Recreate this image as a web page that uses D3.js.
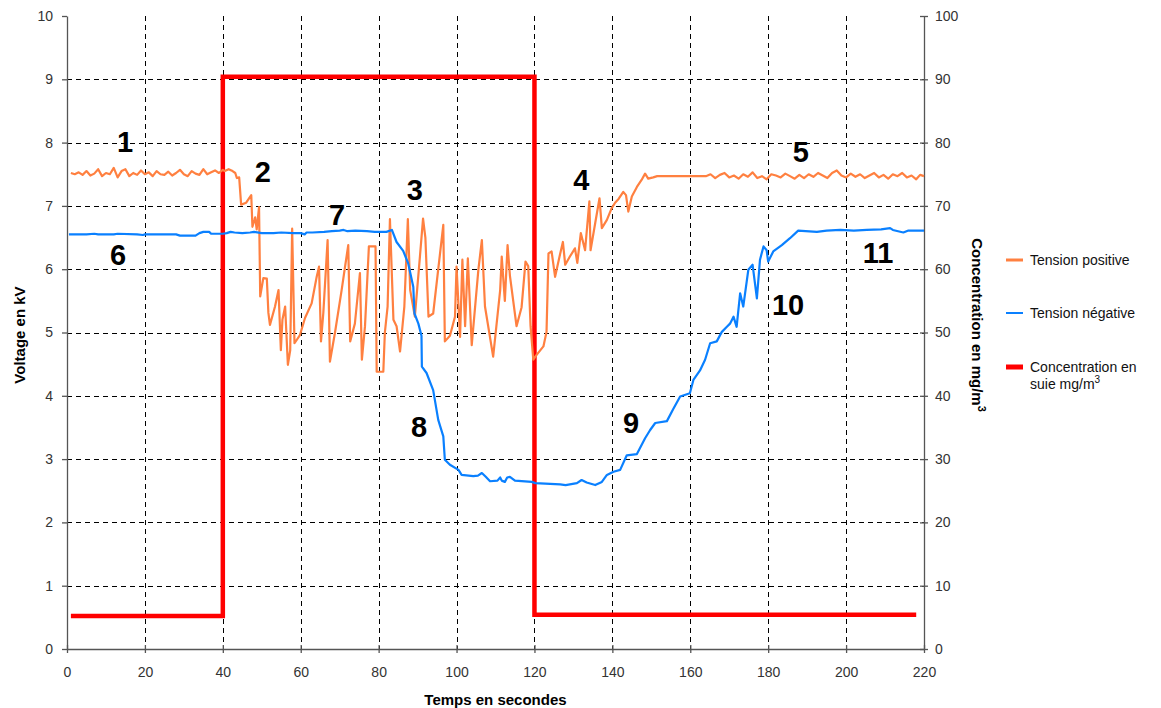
<!DOCTYPE html>
<html><head><meta charset="utf-8">
<script src="https://cdn.jsdelivr.net/npm/d3@7"></script>
<style>
body{margin:0;background:#fff;}
text{font-family:"Liberation Sans",Arial,sans-serif;}
</style></head>
<body><svg id="c" width="1161" height="708"></svg>
<script>
// ---------- DATA ----------
const xTicks = [0,20,40,60,80,100,120,140,160,180,200,220];
const yTicks = [0,1,2,3,4,5,6,7,8,9,10];
const y2Ticks = [0,10,20,30,40,50,60,70,80,90,100];
const legendLabels = ["Tension positive","Tension négative","Concentration en"];
const xTitle = "Temps en secondes";
const yTitle = "Voltage en kV";
const y2Title = "Concentration en mg/m";

// Tension positive [time s, kV]
const tensionPositive = [
[1,7.52],[2,7.50],[3,7.53],[4,7.49],[5,7.55],[6,7.48],[7,7.51],[8,7.58],[9,7.47],[10,7.52],[11,7.50],[12,7.60],[13,7.45],[14,7.55],[15,7.58],[16,7.47],[17,7.52],[18,7.49],[19,7.56],[20,7.50],
[21,7.53],[22,7.47],[23,7.55],[24,7.50],[25,7.49],[26,7.54],[27,7.48],[28,7.52],[29,7.57],[30,7.50],[31,7.47],[32,7.55],[33,7.51],[34,7.49],[35,7.58],[36,7.50],[37,7.53],[38,7.56],[39,7.52],[40,7.57],
[40.5,7.55],[41.5,7.58],[42.5,7.55],[43.2,7.52],[43.6,7.44],[44.2,7.45],[44.7,7.02],[46,7.05],[47.3,7.17],[47.6,6.67],[48.3,6.82],[48.7,6.63],[49.3,6.98],[49.6,5.57],[50.4,5.86],[51.3,5.85],[51.7,5.31],[52.1,5.12],[53.4,5.41],[54.3,5.67],[54.9,4.72],[55.3,5.2],[56,5.41],[56.7,4.49],[57.3,4.72],[57.8,6.64],[58.4,4.83],[59.8,4.96],[61.1,5.23],[62.8,5.46],[64.1,5.88],[64.7,6.04],[65.2,4.86],[65.8,5.31],[66.9,6.46],[67.5,4.54],[68.8,5.0],[70.5,5.67],[71.5,6.09],[72.2,6.38],[72.7,4.86],[73.9,5.14],[75.2,5.94],[75.7,4.57],[76.5,5.1],[77.5,6.36],[79.2,6.36],[79.5,4.38],[81.2,4.38],[81.6,5.0],[82.3,5.41],[82.9,6.79],[83.8,5.2],[84.6,5.1],[85.5,4.7],[86.6,5.41],[87.5,6.79],[88.1,5.67],[89.3,5.25],[90.6,6.2],[91.4,6.8],[92,6.5],[92.8,5.25],[94,5.3],[96.6,6.7],[97,4.86],[98.3,4.95],[99.6,5.25],[100,6.04],[100.9,4.93],[101.5,6.15],[102.2,5.1],[102.9,6.17],[103.9,4.8],[105.6,5.99],[106.5,6.46],[107.3,5.41],[109.4,4.62],[111.2,5.67],[111.6,6.2],[112.4,5.5],[113.1,6.38],[113.7,5.9],[115.4,5.1],[116.7,5.4],[117.7,6.12],[118.4,6.05],[119,5.1],[119.7,4.57],[120.6,4.65],[122.3,4.78],[123.1,5.01],[123.6,6.25],[124.4,6.28],[125.3,5.88],[126.4,6.19],[127.3,6.43],[127.9,6.07],[129.1,6.2],[130.4,6.33],[131,6.1],[131.9,6.57],[133,6.3],[134.1,7.07],[134.4,6.3],[135.6,6.73],[136.7,7.12],[137.3,6.65],[138.6,6.78],[139.8,6.96],[140.7,7.05],[141.6,7.11],[142.8,7.22],[143.5,7.17],[144.1,6.91],[145,7.15],[146.3,7.3],[147.5,7.41],[148.4,7.51],[149.2,7.43],[150.5,7.45],[151.5,7.47],[164,7.47],
[165.2,7.50],[166.4,7.44],[167.6,7.49],[168.8,7.52],[170,7.45],[171.2,7.48],[172.4,7.43],[173.6,7.50],[174.8,7.46],[176,7.53],[177.2,7.44],[178.4,7.47],[179.6,7.42],[180.8,7.50],[182,7.48],[183.2,7.45],[184.4,7.51],[185.6,7.47],[186.8,7.43],[188,7.49],[189.2,7.44],[190.4,7.50],[191.6,7.46],[192.8,7.52],[194,7.48],[195.2,7.44],[196.4,7.52],[197.6,7.56],[198.8,7.48],[200,7.45],[201.2,7.51],[202.4,7.46],[203.6,7.50],[204.8,7.44],[206,7.48],[207.2,7.52],[208.4,7.45],[209.6,7.49],[210.8,7.43],[212,7.50],[213.2,7.47],[214.4,7.52],[215.6,7.45],[216.8,7.48],[218,7.42],[219,7.49],[220,7.47]
];

// Tension négative [time s, kV]
const tensionNegative = [
[0.5,6.55],[5,6.55],[7,6.56],[8,6.55],[12,6.55],[13,6.56],[18,6.55],[19.5,6.54],[20,6.55],[28,6.55],[29,6.53],[33,6.53],[34,6.57],[35,6.59],[36.5,6.59],[37,6.56],[40,6.56],[41,6.57],[42,6.59],[43,6.58],[45,6.57],[47,6.58],[48,6.59],[50,6.57],[53,6.57],[55,6.58],[58,6.57],[60,6.57],[61,6.55],[61.5,6.58],[63,6.58],[66,6.59],[68,6.6],[70,6.61],[71,6.62],[72,6.6],[74,6.61],[77,6.6],[79,6.59],[82,6.59],[83.4,6.62],[84.6,6.43],[86.3,6.29],[87.6,6.09],[88.9,5.72],[89.2,5.3],[90.2,5.14],[91,4.95],[91.1,4.46],[92.3,4.36],[94,4.09],[95.3,3.62],[96.6,3.36],[97,2.99],[98.3,2.91],[100.5,2.83],[101.3,2.75],[104.3,2.73],[105.5,2.74],[106.5,2.78],[107.5,2.72],[108.6,2.65],[110.5,2.66],[111.2,2.71],[111.6,2.66],[112.4,2.64],[113,2.71],[113.7,2.72],[115,2.66],[119.3,2.64],[120.2,2.62],[126.6,2.6],[128,2.59],[130.9,2.62],[132.1,2.67],[133.4,2.63],[135.6,2.59],[137.3,2.64],[138.6,2.75],[140.3,2.8],[142,2.83],[143.7,3.06],[146.3,3.08],[148.4,3.33],[149.7,3.46],[151,3.57],[154,3.6],[155.7,3.8],[157.4,3.99],[159.9,4.04],[160.8,4.25],[162.5,4.4],[163.8,4.57],[165.1,4.83],[166.8,4.86],[168.1,5.01],[169.4,5.09],[170.2,5.14],[171.1,5.25],[171.9,5.09],[172.8,5.62],[173.6,5.41],[174.9,5.99],[176,6.07],[177.1,5.54],[177.9,6.15],[178.8,6.36],[179.6,6.3],[180,6.12],[181.3,6.28],[183.5,6.38],[185.6,6.49],[187.7,6.61],[192.5,6.59],[195,6.61],[198.5,6.62],[202,6.61],[205.3,6.62],[209,6.63],[211.3,6.65],[212,6.62],[214.7,6.58],[216,6.61],[220,6.61]
];

// Concentration en suie [time s, mg/m3]
const concentration = [[1,5.2],[40,5.2],[40,90.4],[120,90.4],[120,5.4],[218,5.4]];

// Numbered annotations [label, time s, kV]
const annotations = [["1",14.9,7.85],["2",50.3,7.38],["3",89.3,7.09],["4",132,7.25],["5",188.4,7.69],["6",13.1,6.07],["7",69.3,6.7],["8",90.4,3.35],["9",144.8,3.41],["10",185.1,5.28],["11",208.2,6.1]];

// ---------- CHART ----------
const svg = d3.select("#c");
const L = 67, R = 924, T = 16, B = 649;
const x = d3.scaleLinear().domain([0,220]).range([L,R]);
const y = d3.scaleLinear().domain([0,10]).range([B,T]);
const y2 = d3.scaleLinear().domain([0,100]).range([B,T]);
const axisColor = "#555", tickText = "#333";

svg.append("rect").attr("width",1161).attr("height",708).attr("fill","#fff");

// grid
const grid = svg.append("g").attr("stroke","#000").attr("stroke-width",1).attr("stroke-dasharray","5,4").attr("shape-rendering","crispEdges");
grid.selectAll(".h").data(yTicks.filter(d=>d>0&&d<10)).enter().append("line")
  .attr("x1",L).attr("x2",R).attr("y1",d=>Math.round(y(d))+0.5).attr("y2",d=>Math.round(y(d))+0.5);
grid.selectAll(".v").data(xTicks.filter(d=>d>0&&d<220)).enter().append("line")
  .attr("y1",T).attr("y2",B).attr("x1",d=>Math.round(x(d))+0.5).attr("x2",d=>Math.round(x(d))+0.5);

// axes
const gl = svg.append("g").attr("transform",`translate(${L},0)`)
  .call(d3.axisLeft(y).tickValues(yTicks).tickFormat(d3.format("d")).tickSize(5).tickSizeOuter(0).tickPadding(9));
const gr = svg.append("g").attr("transform",`translate(${R},0)`)
  .call(d3.axisRight(y2).tickValues(y2Ticks).tickFormat(d3.format("d")).tickSize(4).tickSizeOuter(0).tickPadding(7));
gr.selectAll(".tick line").attr("x1",-4);
const gb = svg.append("g").attr("transform",`translate(0,${B})`)
  .call(d3.axisBottom(x).tickValues(xTicks).tickFormat(d3.format("d")).tickSize(4).tickSizeOuter(0).tickPadding(14));
gb.selectAll(".tick line").attr("y1",-4);
[gl,gr,gb].forEach(g=>{
  g.select(".domain").attr("stroke",axisColor).attr("stroke-width",1.3);
  g.selectAll(".tick line").attr("stroke",axisColor).attr("stroke-width",1.3);
  g.selectAll(".tick text").attr("fill",tickText).style("font-size","14px").style("font-family","'Liberation Sans',Arial,sans-serif");
});

// lines
const line = d3.line().x(d=>x(d[0])).y(d=>y(d[1]));
const line2 = d3.line().x(d=>x(d[0])).y(d=>y2(d[1]));
svg.append("path").datum(concentration).attr("d",line2).attr("fill","none").attr("stroke","#ff0000").attr("stroke-width",4.5).attr("stroke-linejoin","miter");
svg.append("path").datum(tensionPositive).attr("d",line).attr("fill","none").attr("stroke","#ff8040").attr("stroke-width",2.2).attr("stroke-linejoin","round");
svg.append("path").datum(tensionNegative).attr("d",line).attr("fill","none").attr("stroke","#0a80ff").attr("stroke-width",2.2).attr("stroke-linejoin","round");

// annotations
svg.append("g").selectAll("text").data(annotations).enter().append("text")
  .attr("x",d=>x(d[1])).attr("y",d=>y(d[2])).attr("text-anchor","middle")
  .style("font-size","29px").style("font-weight","bold").attr("fill","#000").text(d=>d[0]);

// titles
svg.append("text").attr("x",(L+R)/2).attr("y",705).attr("text-anchor","middle")
  .style("font-size","15px").style("font-weight","bold").text(xTitle);
svg.append("text").attr("transform","translate(25,335) rotate(-90)").attr("text-anchor","middle")
  .style("font-size","15px").style("font-weight","bold").text(yTitle);
const t2 = svg.append("text").attr("transform","translate(972,325) rotate(90)").attr("text-anchor","middle")
  .style("font-size","15px").style("font-weight","bold");
t2.append("tspan").text(y2Title);
t2.append("tspan").attr("dy",-6).style("font-size","11px").text("3");

// legend
const lg = svg.append("g");
const lgItems = [
  {label:legendLabels[0], color:"#ff8040", w:3, yc:260},
  {label:legendLabels[1], color:"#0a80ff", w:2, yc:313},
  {label:legendLabels[2], color:"#ff0000", w:5, yc:367}
];
lgItems.forEach(it=>{
  lg.append("line").attr("x1",1006).attr("x2",1023).attr("y1",it.yc).attr("y2",it.yc).attr("stroke",it.color).attr("stroke-width",it.w);
  lg.append("text").attr("x",1030).attr("y",it.yc+5).style("font-size","14px").attr("fill","#111").text(it.label);
});
const lt = lg.append("text").attr("x",1030).attr("y",389).style("font-size","14px").attr("fill","#111");
lt.append("tspan").text("suie mg/m");
lt.append("tspan").attr("dy",-6).style("font-size","10px").text("3");
</script></body></html>
